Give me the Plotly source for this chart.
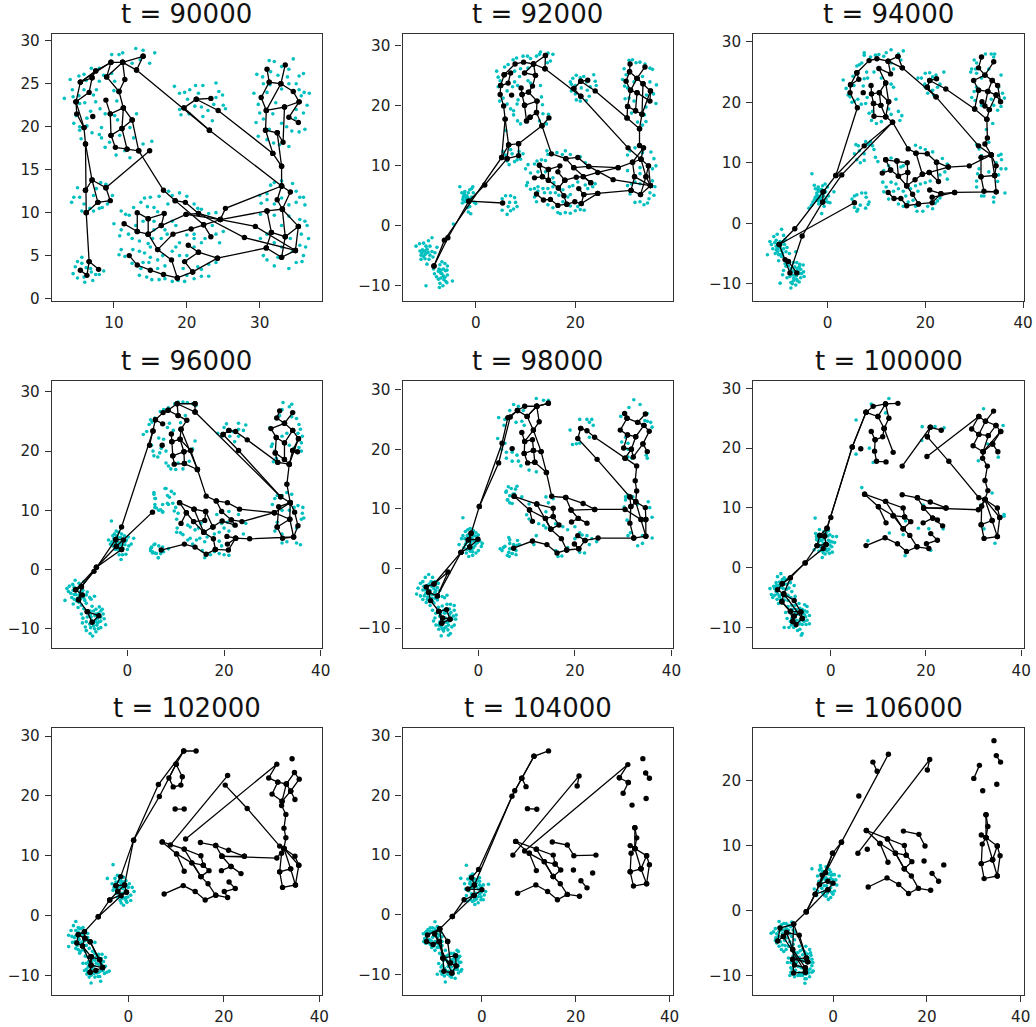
import plotly.graph_objects as go

titles = ["t = 90000", "t = 92000", "t = 94000", "t = 96000", "t = 98000", "t = 100000", "t = 102000", "t = 104000", "t = 106000"]

# ---------- network links, each list is x,y,x,y,... along a chain of nodes ----------
links_90000 = [
 [14.0,28.2,11.2,27.5,9.6,27.5,7.5,26.5,5.4,25.2,4.8,22.9,4.9,21.5,5.9,19.9,6.1,18.0,6.1,12.6,6.2,10.0,6.6,4.3,6.3,2.7,5.4,3.3],
 [7.9,3.4,6.6,4.3],[14.0,28.2,13.1,26.6,11.2,27.5,9.0,25.8,10.7,24.1,11.5,25.5,11.2,27.5],
 [5.4,25.2,9.6,27.5,9.0,25.8],[5.4,25.2,7.0,25.7,7.5,26.5],[7.0,25.7,6.6,24.0,4.8,22.9],[4.8,22.9,5.9,19.9],
 [10.7,24.1,11.3,22.2,12.5,20.8,13.4,17.2,16.8,12.6,18.4,11.4,22.3,8.6,23.3,7.2],
 [11.3,22.2,11.1,19.8,11.8,17.4,10.2,17.6,9.6,19.0,11.1,19.8,12.5,20.8],[11.3,22.2,9.5,21.5,8.9,23.1],[9.5,21.5,9.6,19.0],
 [11.8,17.4,13.4,17.2],[8.9,12.9,14.9,17.2],[6.1,12.6,7.0,13.8,8.9,12.9,9.5,11.4,7.8,11.2,7.0,13.8,6.1,18.0],[6.2,10.0,7.8,11.2],
 [18.4,11.4,19.8,11.2,21.6,9.9,27.9,7.1,34.9,5.6],[19.9,9.8,21.6,9.9,24.6,9.2,29.4,8.4,34.9,5.6],
 [14.7,7.5,16.5,8.5,19.9,9.8,24.6,9.2,25.3,10.5,33.0,13.1],[16.5,8.5,16.9,9.9,14.7,9.3,13.2,10.0,13.2,7.8,14.7,7.5,14.7,9.3],[11.4,8.7,13.2,7.8],
 [14.7,7.5,16.0,5.7,17.9,4.5,18.7,2.4,16.8,2.8,15.0,3.3,13.2,3.9,12.1,5.0],
 [16.0,5.7,18.1,7.5,20.6,8.1,22.3,8.6,24.6,9.2,31.0,10.2,33.1,10.4,32.4,11.5,33.0,13.1],
 [18.7,2.4,20.8,3.1,24.2,4.7,30.9,5.9,33.0,4.8,34.9,5.6,35.3,8.4,33.1,10.4,33.5,7.2,33.0,4.8],
 [31.0,10.2,31.6,7.7,30.9,5.9],[31.6,7.7,33.5,7.2,35.3,8.4],[20.8,3.1,19.7,4.3,21.6,5.4,20.2,6.2],[21.6,5.4,24.2,4.7],
 [13.1,26.6,23.1,19.6,33.0,13.1],[19.6,22.2,23.1,19.6],[19.6,22.2,21.3,23.2,23.3,23.3],
 [21.3,23.2,24.3,21.9,31.8,16.9,33.0,15.4,33.0,13.1,34.2,12.4,33.1,10.4],
 [31.0,26.7,31.3,25.2,30.2,23.4,30.9,21.9,30.8,19.6,32.4,19.3,33.2,18.2,33.4,22.3,30.9,21.9,32.9,25.0,31.3,25.2],
 [33.5,27.2,32.9,25.0,34.6,24.1,35.4,22.9,33.4,22.3],[35.4,22.9,34.0,21.1,35.3,20.5],[32.4,19.3,33.0,15.4],[30.8,19.6,31.8,16.9],[7.1,21.2],
]
links_92000 = [
 [14.0,28.4,11.6,27.0,9.6,27.3,7.9,27.0,5.7,25.2,5.0,23.4,4.9,21.9,5.6,20.0,5.9,17.8,5.2,11.4,-6.3,-2.4,-8.4,-6.7],
 [5.9,17.8,6.6,13.5,5.2,11.4],[6.6,13.5,8.6,13.7,8.6,11.7,6.3,11.2,6.6,13.5],[6.3,11.2,1.8,6.8,-1.4,4.1,-5.6,-2.0,-8.4,-6.7],[-1.4,4.1,5.4,3.8],
 [14.7,18.0,13.3,16.7,8.6,13.7],[14.0,28.4,13.9,26.2,11.6,27.0,9.8,25.5,12.0,25.1,11.4,23.3,10.6,22.3,12.3,20.8,12.2,18.9,13.3,16.7,15.2,12.0,18.1,11.2,19.7,9.7,22.7,9.9,28.6,9.7,31.5,10.6,33.2,11.1],
 [11.6,27.0,12.0,25.1],[5.7,25.2,7.0,25.5,6.5,23.8,5.0,23.4],[9.1,23.0,9.3,21.9,9.8,20.1,10.2,17.5,10.9,18.1,12.2,18.9],[9.3,21.9,10.6,22.3],[9.8,20.1,12.3,20.8],[10.2,17.5,10.9,18.1],
 [13.9,26.2,21.1,21.6,30.6,13.0,33.2,11.1,34.2,8.2,35.1,6.7],[19.7,22.9,21.1,21.6],[19.7,22.9,21.1,24.1,22.5,24.3],[21.1,24.1,24.0,22.5,30.4,18.0,32.9,16.2,32.9,13.4,33.7,13.0,33.2,11.1,34.7,10.0,35.1,6.7,33.1,5.2,31.2,5.9,24.5,5.4,21.2,3.7,19.9,4.0,18.3,3.6,16.5,3.4,15.0,4.4,13.6,4.3,12.2,5.3],
 [33.7,13.0,31.5,10.6,31.9,8.2,31.2,5.9],[31.9,8.2,35.1,6.7],[34.7,10.0,34.2,8.2,33.1,5.2],[18.1,11.2,20.5,11.4,22.7,9.9,27.6,7.7,35.1,6.7],
 [12.8,10.1,13.4,8.2,14.6,7.6,14.6,9.4,16.9,10.0,16.5,9.0,17.9,7.6,16.6,6.3,17.7,5.0,18.3,3.6],[11.8,8.0,13.4,8.2],[12.8,10.1,14.6,9.4],[14.6,7.6,16.6,6.3],[17.9,7.6,20.2,8.1,21.6,8.2,24.5,8.9,28.6,9.7],[19.7,9.7,23.1,7.2],[21.6,8.2,23.1,7.2],[20.7,6.2,21.7,5.2,21.2,3.7],[21.7,5.2,24.5,5.4],[31.0,27.0,30.9,25.7,30.2,24.1,31.1,22.6,30.5,19.9,30.4,18.0],
 [34.0,26.5,32.4,24.6,30.9,25.7],[32.4,24.6,33.6,23.7,35.1,22.5,35.0,20.8,32.4,22.2,31.1,22.6,32.4,24.6],[32.4,22.2,32.1,19.2,30.5,19.9],[33.6,23.7,33.4,18.6,32.1,19.2],[35.1,22.5,33.4,18.6,32.9,16.2],[7.2,21.8],
]
links_94000 = [
 [14.4,27.6,12.4,26.8,10.1,27.2,8.5,26.9,6.0,24.9,4.7,22.9,4.6,21.6,6.1,19.1,1.7,7.9,-0.9,5.2,-6.7,-0.9,-9.9,-3.5,-8.7,-6.0,-7.7,-8.2,-5.2,-2.1,-1.0,3.5,2.9,8.0,13.3,16.7,7.5,12.8,1.7,7.9],
 [-9.9,-3.5,5.5,3.4],[-8.0,-6.3,-6.3,-8.2],[-0.9,5.2,-1.0,3.5],[14.4,27.6,15.3,25.7,12.4,26.8,12.9,24.7,10.5,25.6,11.9,23.2,10.6,21.6,12.5,20.1,11.9,17.6,13.3,16.7,16.5,12.3,18.1,11.6,20.4,11.5,22.3,10.1,24.7,9.3,29.0,9.5,33.5,11.3,34.5,9.5,34.2,7.9,34.5,5.2],
 [6.0,24.9,6.4,23.8,4.7,22.9],[8.9,22.8,9.0,21.4,9.4,19.8,9.5,17.7,11.9,17.6],[9.0,21.4,10.6,21.6,10.9,19.5,11.9,17.6],[9.4,19.8,10.9,19.5],[11.9,23.2,12.5,20.1],
 [15.3,25.7,22.2,20.9,30.9,12.8,33.5,11.3],[20.4,22.5,22.2,20.9],[20.4,22.5,20.9,23.6,22.3,23.9],[20.9,23.6,24.2,22.2,30.1,18.9,32.6,17.2,32.7,14.1,32.2,13.1,33.5,11.3,31.4,10.9,31.4,7.7,32.0,5.3,34.5,5.2,26.0,5.1,23.2,4.9,21.4,3.4,18.6,3.2,16.2,2.9,15.0,4.1,13.6,4.1,12.4,5.1],
 [31.4,7.7,34.2,7.9],[18.1,11.6,19.4,8.1,17.9,7.2,16.2,6.2,17.4,4.8,18.6,3.2],[19.4,8.1,20.8,8.4,24.7,9.3],[22.3,10.1,22.7,6.9,20.8,8.4],[33.5,11.3,34.2,7.9],[21.4,4.3,26.0,5.1],[20.9,5.5,23.2,4.9],
 [11.9,10.5,12.9,8.8,11.2,8.3],[12.9,8.8,14.5,7.8,16.4,8.4,16.2,6.2],[11.9,10.5,14.2,10.3,16.3,10.0,16.4,8.4],[14.2,10.3,14.5,7.8,16.2,6.2],
 [31.5,27.5,30.9,25.7,32.2,24.5,29.9,23.6,30.9,22.0,30.1,18.9],[34.0,26.7,32.2,24.5,33.7,23.6,34.8,22.8,35.4,20.1,34.5,21.2,32.8,21.8,33.7,23.6],[30.9,22.0,32.8,21.8,32.2,19.4,31.6,20.1,33.1,18.8,32.6,17.2],[34.5,21.2,33.1,18.8],[7.3,21.6],
]
links_96000 = [
 [14.0,28.0,10.3,28.0,8.4,26.9,7.4,26.5,5.8,25.3,5.3,23.4,4.6,21.0],[5.3,23.4,-1.2,7.2,-2.4,5.1,-0.8,5.0,-1.2,3.4,-2.3,3.9,-2.4,5.1,-6.9,-0.3,-9.5,-2.9,-10.7,-3.4,-9.3,-4.3,-10.1,-5.1,-8.3,-7.1,-7.3,-8.9,-5.9,-7.8,-8.3,-7.1],
 [5.2,9.7,-2.3,3.9,-6.4,0.4,-9.5,-2.9,-10.1,-5.1],[-1.2,3.4,-6.4,0.4,-10.7,-3.4],[5.8,25.3,7.3,24.6],[14.0,28.0,14.0,26.6,10.3,28.0,10.5,26.0,8.4,26.9],[10.5,26.0,12.3,25.2,11.1,23.7,10.9,22.0,13.1,20.1,14.5,16.9,16.3,12.4,18.4,11.6,20.7,11.3,23.2,10.2,30.4,9.6,33.7,11.3],
 [11.1,23.7,14.5,16.9],[14.0,26.6,31.7,12.3,33.7,11.3,34.6,9.7,35.3,7.4,34.4,5.5,33.6,8.5,33.7,11.3],[9.1,22.9,9.2,21.6,9.4,19.2,9.7,17.8,11.8,17.9,14.5,16.9],[9.2,21.6,10.9,22.0,11.7,19.9,11.8,17.9],[9.4,19.2,11.7,19.9,13.1,20.1],
 [21.0,23.5,22.4,23.3,24.8,21.9,31.1,18.1,33.5,17.8,33.0,14.4,33.7,11.3,31.3,10.6,31.0,7.2,32.1,5.3,34.4,5.5,25.3,5.2,22.4,5.3,20.9,3.3,18.2,3.4,16.3,2.6,14.0,3.8,11.8,4.3,7.0,3.3],
 [19.8,22.8,21.0,23.5],[19.8,22.8,23.0,20.1,31.7,12.3],[31.0,7.2,33.6,8.5,30.4,9.6],[18.4,11.6,19.5,9.8,21.5,8.4,22.3,7.5,19.6,8.2,17.7,7.2,15.8,6.3,17.8,5.2,18.2,3.4],[21.5,8.4,23.7,8.1,30.4,9.6],[20.6,5.6,22.4,5.3],[20.7,4.3,22.4,5.3],
 [10.8,11.3,12.2,9.6,11.1,7.8],[12.2,9.6,13.7,8.1,16.0,8.3,16.2,9.8,13.8,10.2,10.8,11.3],[13.7,8.1,15.8,6.3],[13.8,10.2,15.8,6.3],[16.2,9.8,17.7,7.2],
 [31.5,26.8,30.9,25.6,32.5,24.7,29.7,23.8,30.8,22.3,30.6,19.7,31.1,18.1],[34.2,26.5,32.5,24.7,34.2,23.5,35.4,22.1,34.2,20.1,35.2,19.9],[30.8,22.3,32.5,21.4,34.2,23.5],[32.5,21.4,32.5,18.6,30.6,19.7],[35.4,22.1,33.5,17.8,32.5,18.6],[34.2,20.1,33.5,17.8],[7.2,21.0],
]
links_98000 = [
 [14.5,27.7,12.1,27.2,9.6,27.2,8.1,26.5,6.1,25.3,4.9,21.0,0.2,10.4,-1.5,5.9,-2.1,4.8,-3.6,2.7,-9.2,-2.6,-10.8,-3.1,-10.3,-4.0,-9.9,-5.4,-8.2,-7.2,-7.6,-9.2],[-10.3,-4.0,-8.5,-4.6,-6.3,-0.6,-9.2,-2.6],[8.1,26.5,6.6,25.4,4.2,17.7,0.2,10.4],
 [-1.5,5.9,-1.8,3.6,-3.6,2.7],[-2.1,4.8,-0.1,4.9,-1.8,3.6],[-3.6,2.7,-8.5,-4.6],[-8.2,-7.2,-6.6,-6.9,-5.9,-8.5,-7.4,-8.3,-8.2,-7.2],[-7.6,-9.2,-5.9,-8.5],
 [14.5,27.7,12.1,27.2,10.1,25.5,8.1,26.5],[12.1,27.2,10.1,25.5,11.4,23.2,9.6,21.3,9.5,19.3,10.2,17.7,11.7,17.8,14.1,16.1,15.2,12.1,18.1,11.9,21.7,10.9,24.1,9.9,30.4,9.9,33.7,8.2,34.7,8.2],[12.1,27.2,12.6,24.6,11.4,23.2,13.0,19.6,14.1,16.1],
 [9.0,22.8,9.6,21.3,11.2,21.6,11.4,19.8,11.7,17.8],[9.5,19.3,11.4,19.8,13.0,19.6],[18.1,11.9,19.2,9.8,20.7,8.4,22.5,7.6],[20.7,8.4,19.3,7.8],[19.2,9.8,24.1,9.9],
 [21.2,23.5,22.5,23.1,24.1,22.0,30.4,18.5,32.8,17.2,32.5,14.7,32.8,13.0,32.6,11.2,34.6,10.2,34.7,8.2,34.7,5.4,32.2,5.1,24.8,5.1,22.1,4.7,20.8,3.3,18.3,3.1,16.3,2.6,14.2,4.0,11.2,4.6,7.3,3.4],
 [21.2,23.5,20.6,21.8,24.6,18.3,31.4,12.0,32.6,11.2,33.7,8.2,34.7,5.4],[31.6,10.4,31.4,7.6,32.2,5.1],[31.4,12.0,31.6,10.4,32.6,11.2],[20.6,5.5,22.1,4.7],[19.9,4.1,20.8,3.3],
 [7.4,12.1,12.1,10.8,15.5,10.1,15.5,8.7,13.9,8.4,15.0,6.6,17.2,5.0,18.3,3.1],[7.4,12.1,10.6,9.8,11.2,7.9],[10.6,9.8,13.9,8.4],[12.1,10.8,15.0,6.6],[15.5,8.7,16.7,7.3,15.0,6.6],
 [30.3,26.0,30.8,25.2,29.4,23.2,30.9,22.4,30.1,20.2,31.7,20.0,30.4,18.5],[34.6,25.9,33.0,24.5,30.8,25.2],[33.0,24.5,34.3,24.0,35.4,23.0,34.1,20.9,35.0,19.6],[30.9,22.4,32.6,22.1,34.3,24.0],[32.6,22.1,31.7,20.0,32.1,18.7,34.1,20.9],[7.0,20.1],
]
links_100000 = [
 [14.1,27.5,11.5,27.4,8.9,27.0,7.4,26.0,4.5,20.2,0,8.4,-0.8,6.6,-2.3,5.4,-2.9,3.7,-5.4,0.8,-10.2,-2.7,-11.2,-3.7,-9.9,-4.4,-10.3,-5.7,-8.5,-7.3,-8.0,-9.0,-7.3,-9.5,-6.0,-8.5,-6.3,-7.4,-8.5,-7.3],
 [7.4,26.0,4.5,20.2,-0.8,6.6,-1.3,5.3,-2.3,5.4],[-1.3,5.3,-1.0,3.9,-2.9,3.7],[-1.0,3.9,-1.6,3.2,-5.4,0.8,-8.5,-1.7,-10.2,-2.7],[-8.5,-1.7,-9.9,-4.4,-7.7,-5.5,-6.3,-7.4,-7.7,-8.1,-8.0,-9.0],[-9.9,-4.4,-6.0,-8.5],[-10.3,-5.7,-7.7,-8.1],
 [11.5,27.4,9.9,25.3,7.4,26.0],[11.5,27.4,12.2,25.0,11.2,23.3,9.9,25.3],[11.2,23.3,13.1,19.3],[11.2,23.3,10.9,21.9,9.3,21.4,8.5,22.8],[9.3,21.4,9.2,19.5,9.6,17.8,11.6,17.7],
 [15.0,17.0,20.9,23.5,23.2,23.0],[20.3,21.9,20.9,23.5],[20.3,21.9,24.8,17.8,31.1,11.7,32.4,11.4,35.0,10.0,35.5,8.4,35.0,5.2,32.2,4.9,31.6,7.2,33.9,7.9,35.0,5.2],[20.2,18.6,31.1,25.3,29.6,23.2,31.1,22.3,33.1,22.1,34.7,23.8,35.7,22.8,34.0,20.7,35.1,19.4],[31.1,25.3,32.5,24.5,34.7,23.8],[34.2,26.2,32.5,24.5,31.1,22.3,29.9,20.4,32.0,19.4,33.1,22.1],[35.7,22.8,32.0,19.4,31.9,18.3,32.9,17.0,32.4,14.6,33.0,12.9,32.4,11.4,31.7,10.3,31.6,7.2],[34.0,20.7,32.0,19.4],
 [19.5,10.0,24.2,10.0],[19.5,10.0,31.0,9.7,32.4,11.4,35.5,8.4],[32.4,11.4,33.9,7.9],[15.0,12.2,18.2,11.7,20.9,11.0,24.2,10.0],[18.2,11.7,19.5,10.0,21.4,8.3,23.5,7.0],[19.4,7.5,21.4,8.3],[21.4,8.3,22.4,8.0],
 [7.1,12.3,11.5,11.1,15.2,10.0,15.5,8.5,13.1,8.7,15.2,6.5,16.6,5.4,18.1,3.5,15.9,2.7,14.0,4.0,11.4,5.0,7.4,3.7],[7.1,12.3,10.0,10.2,11.6,7.5],[10.0,10.2,13.1,8.7],[11.5,11.1,15.2,6.5],[15.5,8.5,16.8,7.7,15.2,6.5],[18.1,3.5,20.6,3.2,20.1,4.0,22.4,4.6,21.0,5.7],[6.3,19.9],
]
links_102000 = [
 [14.2,27.5,11.6,27.5,6.3,21.9,1.1,12.6,-1.6,6.5,-2.6,5.0,-2.2,4.0,-3.9,2.6,-6.3,-0.2,-9.2,-2.7,-10.5,-3.2,-10.8,-4.6,-9.6,-5.1,-7.8,-6.9,-7.8,-8.3,-8.0,-9.5,-6.8,-9.2,-5.4,-8.7,-6.0,-7.4,-7.8,-6.9],
 [11.6,27.5,10.0,25.3,6.5,19.9,1.1,12.6,-0.8,5.1,-2.2,4.0],[-2.6,5.0,-0.8,5.1,-0.4,3.9,-1.5,3.3,-6.3,-0.2],[-0.4,3.9,-3.9,2.6],[-9.2,-2.7,-9.1,-3.8,-8.0,-4.4,-6.0,-7.4],[-9.1,-3.8,-9.6,-5.1,-7.8,-8.3,-5.4,-8.7],[-10.5,-3.2,-8.0,-4.4,-5.4,-8.7],[-7.8,-6.9,-8.0,-9.5],
 [10.0,25.3,11.3,23.2,11.0,21.8,9.4,21.5,8.5,23.0,10.0,25.3],[9.8,17.8,11.7,17.8],[8.8,11.8,20.8,23.4],[20.3,21.8,24.9,17.9,31.7,11.6,32.6,11.2,34.9,9.9,35.7,8.4,35.0,5.1,32.3,4.7,31.7,7.3,34.0,7.8,35.0,5.1],[12.0,12.8,31.1,25.3,29.4,23.0,31.3,22.3,33.1,22.0,34.8,23.9,35.8,22.8,34.0,20.8,34.9,19.4],[33.1,22.0,34.0,20.8],[31.3,22.3,30.1,20.3,32.2,19.1,33.1,22.0],[34.0,20.8,32.2,19.1,32.1,18.4,33.0,16.9,32.6,14.6,33.0,13.0,32.6,11.2,32.1,10.4,31.7,7.3],[34.3,26.2],
 [19.6,9.9,24.3,9.9],[19.6,9.9,31.1,9.6,32.6,11.2,35.7,8.4],[32.6,11.2,34.0,7.8],[15.1,12.2,18.3,11.7,21.0,10.9,24.3,9.9],[18.3,11.7,19.6,9.9,21.5,8.2,23.6,7.0],[19.5,7.5,21.5,8.2],
 [7.1,12.3,11.7,11.1,15.2,10.0,15.7,8.4,13.3,8.8,15.2,6.5,16.7,5.3,18.3,3.4,16.1,2.6,14.0,4.0,11.5,5.0,7.5,3.6],[7.1,12.3,10.1,10.3,11.7,7.4],[10.1,10.3,13.3,8.8],[11.7,11.1,15.2,6.5],[15.7,8.4,16.9,7.5,15.2,6.5],[18.3,3.4,20.8,3.0,20.1,4.0,22.4,4.5,21.1,5.6],
]
links_104000 = [
 [14.2,27.5,11.1,26.6,8.5,22.9,7.0,20.8,-0.7,7.6,-2.2,6.2,-1.6,5.0,-3.0,4.3,0,4.2,-1.7,3.2,-3.8,2.5,-6.3,-0.3,-9.0,-2.4,-11.6,-3.4,-11.8,-4.5,-10.4,-5.0,-9.1,-4.5,-8.3,-7.3,-8.1,-9.5,-6.4,-9.8,-5.5,-8.6,-5.6,-6.9,-8.3,-7.3],
 [11.1,26.6,6.4,19.9,-1.6,5.0,-1.7,3.2],[8.5,22.9,9.4,21.5],[-9.0,-2.4,-10.1,-3.2,-9.1,-4.5],[-9.0,-2.4,-7.3,-4.5],[-9.0,-2.4,-8.3,-7.3,-6.7,-8.1,-5.5,-8.6],[-10.1,-3.2,-6.4,-9.8],[-1.7,3.2,-6.3,-0.3],[-7.3,-4.5,-6.7,-8.1],
 [9.7,17.8,11.7,17.7],[6.6,10.0,20.7,23.3,20.3,21.6],[9.1,10.7,31.1,25.2,29.3,23.0],[31.2,22.2,29.3,23.0],[31.2,22.2,30.1,20.4],[34.9,23.8,35.7,22.9],[34.3,26.2],[32.0,18.4],[35.0,19.5],
 [32.6,14.6,33.0,12.9,32.6,11.1,31.8,10.3,31.6,7.2,33.9,7.7,35.1,5.2,32.3,4.8,31.6,7.2],[31.6,11.6,32.6,11.1,35.1,9.9,35.7,8.4,35.1,5.2],[32.6,11.1,33.9,7.7],[32.6,14.6,32.6,11.1],[33.9,7.7,35.1,9.9],
 [15.0,12.2,18.2,11.7,19.6,9.9,24.3,10.0],[19.5,7.5],[23.6,7.0],[21.1,5.7,22.4,4.5],
 [7.2,12.3,11.6,11.0,15.2,10.0,15.6,8.5,13.3,8.9,15.2,6.4,16.7,5.2,18.2,3.4,16.1,2.5,14.0,3.9,11.5,5.0,7.6,3.6],[7.2,12.3,10.1,10.3,11.6,7.4],[10.1,10.3,13.3,8.9],[11.6,11.0,15.2,6.4],[15.6,8.5,16.8,7.5,15.2,6.4],[18.2,3.4,20.8,3.1],
]
links_106000 = [
 [11.8,24.0,1.8,10.5,-0.1,8.8,-1.6,5.8,-2.3,5.4,-2.9,4.0,-1.1,4.5,0,4.2,-1.1,3.2,-3.8,2.5,-5.7,-0.2,-8.4,-2.1,-11.3,-2.7,-11.8,-4.7,-10.6,-4.0,-9.9,-3.4,-7.2,-3.8,-5.4,-7.9,-5.7,-7.3,-8.6,-7.5,-8.4,-9.6,-5.9,-9.5,-5.9,-8.8,-8.2,-8.4,-8.6,-6.0,-9.9,-3.4],
 [8.5,22.8,9.4,21.4],[1.8,10.5,-2.9,4.0,-5.7,-0.2],[-1.1,3.2,-5.7,-0.2],[-0.1,8.8,-3.8,2.5],[-8.4,-2.1,-8.6,-6.0,-5.9,-8.8],[-8.4,-2.1,-5.7,-7.3],[-10.6,-4.0,-5.9,-9.5],[-8.6,-7.5,-5.4,-7.9],
 [5.5,17.6],[5.3,8.8,20.6,23.2,20.1,21.6],[7.3,9.4],[31.2,22.3,30.0,20.3],[34.8,23.8,35.7,22.8],[34.3,26.1],[31.9,18.4],[34.9,19.4],
 [32.6,14.7,33.0,12.9,32.6,11.2,31.8,10.2,31.6,7.2,34.0,7.8,35.0,5.3,32.2,4.9,31.6,7.2],[31.6,11.6,32.6,11.2,35.0,9.9,35.6,8.4,35.0,5.3],[32.6,11.2,34.0,7.8],[32.6,14.7,32.6,11.2],[34.0,7.8,35.0,9.9],
 [15.0,12.2,18.3,11.7,19.6,9.9],[19.4,7.6],[23.6,7.0],[21.1,5.7,22.5,4.5],
 [7.1,12.3,11.6,11.0,15.2,10.0,15.6,8.5,13.3,8.8,15.2,6.4,16.7,5.3,18.2,3.4,16.1,2.6,14.0,4.0,11.5,5.0,7.5,3.6],[7.1,12.3,10.0,10.3,11.7,7.4],[10.0,10.3,13.3,8.8],[11.6,11.0,15.2,6.4],[15.6,8.5,16.8,7.5,15.2,6.4],[18.2,3.4,20.8,3.1],
]

# ---------- cyan input points, x,y,x,y,... ----------
dots_90000 = [3.2,23.3,4.0,25.5,4.3,24.3,4.5,20.4,4.4,23.5,5.2,25.9,5.9,26.1,6.2,25.4,6.9,26.8,8.0,26.8,8.6,26.0,9.7,28.4,10.7,28.4,11.2,28.6,13.0,29.1,14.0,28.9,15.6,28.6,14.9,27.4,13.6,27.8,12.5,27.4,10.1,25.3,9.7,26.2,8.0,25.3,7.6,24.3,7.2,23.7,5.9,24.3,5.2,23.6,4.8,21.3,6.0,22.8,5.3,22.7,7.5,22.9,8.1,22.1,8.8,21.5,10.1,21.3,10.4,23.0,10.0,24.2,13.1,21.5,12.2,19.9,12.7,18.7,14.0,18.0,15.2,18.3,8.3,18.7,8.8,17.6,9.4,18.2,10.3,16.7,8.0,19.1,7.0,19.3,5.3,19.6,5.3,20.0,6.3,20.1,5.5,18.6,6.3,21.0,12.2,16.4,11.5,17.2,10.8,19.0,10.5,20.8,6.8,21.8,8.3,19.9,
 18.3,24.7,19.0,23.9,20.1,23.2,19.7,24.0,20.4,24.3,21.2,24.8,21.6,23.9,22.2,24.8,24.0,25.1,24.4,24.1,24.9,23.7,24.0,23.4,25.0,22.5,23.7,22.6,22.0,22.3,21.1,22.4,20.3,21.5,19.2,21.4,19.0,22.0,22.9,21.9,23.5,20.7,22.2,21.2,25.3,22.1,
 31.3,27.7,32.0,27.6,33.0,27.0,34.6,27.9,34.0,26.7,35.4,25.9,36.0,26.2,29.6,26.1,30.4,25.8,30.5,25.0,31.5,26.4,32.5,26.0,33.8,25.8,31.0,24.0,29.2,23.9,29.8,22.6,31.4,24.9,33.0,24.4,34.0,25.0,35.0,25.0,35.4,24.3,36.1,24.0,36.8,23.9,36.5,22.5,35.7,23.6,35.0,22.0,36.0,21.6,34.9,21.0,36.2,19.7,35.4,19.4,34.4,19.5,33.7,20.0,33.0,20.4,32.2,22.8,31.8,21.5,30.0,21.6,29.5,20.5,29.8,18.9,30.5,20.9,31.3,19.7,31.0,18.5,31.9,18.1,32.7,17.9,34.0,17.7,
 5.0,12.9,4.5,11.8,4.2,11.2,5.3,11.8,5.9,11.0,5.6,10.2,6.7,10.5,7.2,12.0,7.6,12.8,8.2,13.5,8.9,13.3,9.1,11.0,8.4,10.6,7.2,10.2,9.8,12.0,8.0,10.5,
 4.4,2.9,4.7,3.7,5.0,4.3,5.6,4.8,5.0,2.4,5.9,2.5,6.0,1.9,7.1,2.1,7.5,2.8,8.0,2.8,8.6,3.2,6.9,3.1,6.2,3.6,6.8,3.5,5.6,4.1,
 11,10.2,11.6,9.8,10,8.7,11,8.0,10.8,7.3,12.1,9.7,12.7,10.6,13.7,11.2,14.2,11.7,14.6,10.7,15.5,10.6,15.5,9.0,16.0,10.1,17.4,11,15.0,11.8,16.2,11.9,17.5,12.5,18,12,19.0,12.3,20,11.9,21,11,21.5,10.5,22,10.4,23,9.9,24,10,23.5,8.5,24,7.5,25,7.8,24.5,6.5,22.5,7,22,6.5,21,7.5,21,7,20,7.4,19,6.5,18.5,8.5,18,9,17,8,17.3,7.5,16.5,7,15.5,8,14,9,13,8.5,12,7.5,12.5,7,13.5,6.7,14.7,6.4,15.3,7,11,5.7,10.7,5.1,11.5,4.9,12.6,5.7,13.5,5.5,14.2,5.3,15,6,15,4.8,16,4.5,16.7,5,17,3.8,16,3.5,14.8,4.2,14,4.2,13.7,3.5,12.5,4.1,13.5,2.7,14.5,2.5,15.2,2.2,16.2,2.2,17,2.3,18,2,18.8,2.1,19.7,2,20,2.7,21,2.3,22,2.6,23,2.6,22,3.4,21.5,3.7,23,4,24,4.2,19.5,3.5,19,5,20,5,21,6,18.5,6,18,5.5,
 30,12,31,12.2,31.5,13.2,32,13.5,33,13.7,34.5,13.4,35,12.5,36,11.8,35.5,11.8,35,11.2,36.2,10.9,34,10.9,33,11.7,32,11,31,11.5,30.2,11.1,30.1,9.8,32,9.7,34,9.6,35.5,9.2,36.2,9,36.5,8.5,35.7,7.5,36.7,7,36.3,6,35.5,6.2,34.2,7,33,8.5,33,6,32,6.5,31,7.5,30.1,7,30.5,5,31,4.5,32,3.8,32.5,4.8,34,3.5,35,4.2,35.8,4.3,36,5,34.5,5.5]
dots_92000 = [4.2,25.8,4.5,24.8,4.9,24.2,4.5,23.2,5.8,26.5,6.5,26.9,7.5,27.7,8.2,28.0,9.5,28.3,10.4,28.3,11.0,27.9,12.2,28.3,12.8,28.6,13.0,29.0,14.5,28.8,15.5,28.6,15.0,27.5,14.4,27.2,9.0,26.2,7.8,25.8,8.8,24.9,7.8,24.0,8.4,23.4,7.4,23.2,6.3,22.5,5.5,21.3,4.8,20.8,6.3,20.3,7.0,19.5,10.5,26.3,10.5,24.2,11.0,23.8,8.5,21.0,8.3,20.3,7.6,19.2,13.0,23.4,13.2,21.5,13.4,20.2,13.5,18.7,14.6,18.6,12.8,17.5,14.2,17.0,8.4,17.5,9.0,17.0,7.6,18.5,6.0,15.9,
 19.0,24.0,19.5,24.6,19.2,23.6,20.2,25.1,21.0,24.7,21.7,24.9,22.3,24.0,23.7,25.2,24.0,24.1,24.2,23.4,23.0,23.2,22.4,22.6,21.2,23.0,20.0,23.4,19.2,22.5,20.0,22.0,20.2,21.0,21.0,20.8,22.2,20.9,22.8,21.6,
 29.8,26.2,30.2,25.2,30.8,27.6,31.5,27.7,32.2,27.2,33.0,27.3,34.0,27.0,35.0,26.3,35.5,26.1,29.5,24.4,29.9,23.3,30.5,23.0,31.8,24.0,33.5,24.9,35.0,24.0,36.3,23.5,35.7,22.0,36.2,20.4,34.3,21.8,34.2,19.8,33.9,18.5,34.2,17.4,32.5,17.3,33.5,16.8,31.8,20.8,30.8,21.3,31.3,18.8,30.0,21.2,
 5.5,12.4,6,11.8,6.3,10.8,6.7,10.2,7.8,10.7,8.3,11.0,9.0,11.1,9.5,12.0,8.7,12.4,7.3,12.0,7.0,12.7,
 5.3,4.5,6.0,5.0,7.0,5.0,7.8,4.7,8.0,3.9,8.3,3.2,7.6,2.8,7.0,2.5,6.5,3.2,6.3,1.9,5.3,2.6,6.8,3.9,
 -4.5,0.3,-3.2,6.5,-2.8,5.5,-2.5,4.8,-2.2,4.0,-2.7,3.8,-2.2,5.7,-1.8,5.0,-1.7,3.0,-1.5,2.3,-1.0,2.0,-1.2,6.0,-0.8,6.2,-0.5,5.5,-0.8,4.8,-0.3,3.9,-1.2,3.2,0.0,3.7,-0.6,6.5,-2.0,4.7,-2.4,5.0,
 -12,-3.4,-11.3,-3.0,-10.5,-2.9,-10.0,-3.4,-9.5,-2.5,-8.8,-2.0,-9.2,-3.4,-9.8,-3.9,-10.7,-4.0,-11.2,-4.2,-11.0,-4.9,-11.0,-5.6,-10.2,-4.8,-9.6,-4.4,-9.2,-4.9,-8.8,-4.3,-8.2,-4.5,-9.4,-5.6,-10.2,-5.5,-9.8,-6.4,-8.6,-5.2,-7.8,-3.6,
 -10,-10.0,-8.5,-7.2,-8.3,-8.0,-7.9,-8.5,-7.5,-7.6,-7.2,-6.5,-6.8,-6.0,-6.5,-7.2,-7.0,-7.9,-7.5,-8.9,-7.2,-9.6,-7.3,-10.3,-6.6,-10.0,-6.0,-9.3,-5.8,-9.5,-4.7,-9.2,-5.7,-8.2,-6.2,-8.6,-6.1,-7.5,-5.7,-6.7,-6.2,-6.3,-5.8,-7.4,
 10.5,10.2,11.8,10.3,12.3,10.8,13.2,11.0,14,10.9,14.5,11.9,14.3,12.5,16.3,12.2,17.4,11.9,18,12.5,19,11.9,21,11.5,22,10.5,10,9.5,11,8.8,12.5,9,14,9,15.5,8,15.7,7.2,10.4,7.2,10.2,6.7,11,6.1,11.8,6.2,12.5,6.5,13.5,6.2,14.5,6.2,15.5,6.5,12.5,5.8,13.8,5.5,15,5.5,16,5.5,16.7,5.1,17.5,6,18.8,6.5,19.5,6.7,20.5,7.3,22,6.8,22.5,6.2,23.5,6.5,24,7,11.8,4.8,12.2,4,14.5,3.5,15.5,3,16.5,2.2,17,2,18,2.2,19,2.1,20,2.5,21,2.7,21.8,2.6,20.5,3.2,19,3.3,17.5,4,18.5,4.8,19,5.2,
 30.5,11.8,31,12.5,32,13,33.5,12.2,35.2,12.3,35.8,11.2,36.2,10,35.5,9.5,33,9.7,30.5,9.2,32,7.3,33,7,35.5,7.5,36,6.5,35,5.5,35.8,5.1,34.8,4.5,34.5,3.8,33.8,3.5,33,4,32,3.9,31,5.3,30.5,6.7,31.3,7,33,8.7]
dots_94000 = [3.2,23.7,3.8,22.3,4.2,21.2,4.6,20.9,5.0,20.0,5.5,20.2,5.4,22.8,5.2,24.3,6.0,26.0,6.5,26.2,7.0,26.5,7.5,27.8,7.5,28.2,8.8,27.5,9.8,27.8,10.5,27.9,11.5,27.6,12.0,28.2,13.0,28.7,14.5,28.0,15.5,28.5,15.0,27.0,13.5,25.5,13.0,26.5,8.0,25.0,7.5,23.9,8.2,24.0,7.3,22.7,8.1,20.8,7.8,19.8,6.9,19.7,6.2,20.5,9.5,25.0,11.0,24.0,13.0,23.0,13.5,22.5,14.0,20.5,13.0,18.0,14.5,18.5,15.2,17.8,14.8,17.0,9.0,17.0,8.5,18.2,9.2,18.5,11.0,16.8,10.0,16.5,12.5,18.9,
 18.5,24.0,19.2,24.0,20.0,24.8,20.9,24.9,21.5,24.2,22.2,24.5,23.8,25.0,23.0,23.0,22.5,22.5,21.5,22.0,21.7,21.2,20.5,21.5,20,22.5,19.9,23.0,
 30,27.0,30.5,26.5,30.3,25.5,29.5,25.5,29.3,25.0,30.5,24.8,31.5,24.0,33.0,25.5,34,27.5,33.5,28.0,32.3,28.0,34.2,28.0,35.5,24.5,35,22.5,35.8,21.5,36.2,20.7,35.5,19.3,34.8,18.7,34.0,19.5,33.5,20.5,30,21.8,29.5,20.8,30.2,20.3,31.5,19.5,30.5,22.5,33.8,16.5,32.5,15.5,
 5.5,11.5,6,10.5,6.5,12.0,7.5,11.5,7.8,13.5,8.4,13.0,8.8,13.5,9.2,12.8,9.5,12.2,7.5,10.4,6.7,10.0,5.8,13.0,6.3,12.8,
 5.0,4.0,5.5,4.5,6.0,4.7,7.0,5.0,7.8,5.0,7.9,4.3,8.5,3.5,8.3,3.1,7.8,2.5,6.7,3.0,6.2,2.3,6.0,2.0,5.5,2.6,
 -3.2,8.2,-3.8,2.5,-3.3,3.0,-3.0,3.5,-2.7,3.9,-2.5,4.3,-2.2,5.0,-2.5,5.7,-2.7,6.3,-1.9,6.0,-1.5,5.5,-1.0,6.2,-0.5,6.5,0,6.0,-0.4,5.2,-0.8,4.5,-1.5,4.0,-1.8,3.2,-1.2,1.6,-0.7,2.8,0,3.5,0.5,3.4,1.3,5.2,-2.2,3.8,-1.8,4.5,-0.3,4.0,0.2,4.5,-1.2,4.9,
 -12.3,-5.2,-11.5,-3.5,-11.8,-3.0,-11,-2.2,-10.5,-2.8,-10.3,-1.8,-9.4,-1.0,-9.0,-2.0,-8.7,-2.7,-8.8,-3.5,-9.7,-4.0,-10.5,-3.8,-11.2,-4.2,-10.7,-5.0,-10.0,-5.2,-9.2,-4.9,-8.5,-4.7,-8.3,-4.0,-9.4,-5.5,-10,-6.2,-8.7,-6.7,-7.8,-5.0,-6.5,-4.7,-10.5,-4.4,-9.7,-3.0,-9.0,-3.0,
 -9.7,-9.9,-9.2,-8.5,-9.0,-7.8,-8.5,-7.1,-8.0,-7.0,-7.5,-7.5,-7.0,-6.5,-6.3,-6.5,-5.7,-6.8,-5.0,-6.9,-4.9,-8.0,-4.8,-8.8,-5.5,-9.0,-5.8,-9.7,-6.5,-10.2,-7.5,-9.8,-7.2,-10.0,-8.3,-9.0,-7.7,-8.8,-6.9,-9.1,-6.0,-8.0,-5.5,-7.6,-6.9,-7.9,-7.5,-10.7,-6.2,-9.5,-5.3,-8.3,
 9.8,10.9,10.3,10.2,11.5,8.7,12.5,9.5,13,10.8,14,10.5,15,9.3,15.5,9.5,16.5,12.5,18,12.9,19.0,12.5,20,12.2,21.5,11.8,23.5,10.7,24.5,9.8,24,8.5,23.0,8.0,24.5,7.3,21,7.0,20,6.7,19,6.5,18,6.2,14,6.5,13,6.8,12,6.0,11.3,6.8,11.5,5.2,12.5,4.0,13.5,5.3,14.5,5.7,15.5,5.3,16,4.5,14.5,3.2,15.5,2.8,16.5,3.5,17.5,3.8,18,2.8,18.3,2.0,19.5,2.0,20.5,2.8,21.5,2.4,22,3.3,22.5,3.7,23.0,4.2,17,5.7,18.5,5.3,
 30.5,13,31,12.3,31.5,11.2,33,13.4,35,11.2,35.5,11.4,35.6,10.5,34.5,10,35.5,9,36.5,9,35,8,34.8,6.9,36.3,5,34,4.3,34,3.5,32,4.5,31.5,4.5,30.5,6,30.5,7,30.7,8.2,31,9,33,8.5]
dots_96000 = [3.3,22.8,4.0,23.3,4.5,24.5,4.8,25.3,5.1,24.9,5.7,25.6,6.8,26.7,7.5,27.0,8.5,27.3,9.8,28.0,10.5,28.3,11.5,28.3,12.4,28.2,13.5,28.0,14.2,27.7,12,26.0,8.3,24.0,8.7,24.7,9.5,23.5,11.0,24.8,6.5,22.2,7.5,22.0,5.0,21.0,5.3,20.0,5.5,19.2,6.3,19.0,6.7,19.7,7.0,20.5,8.0,20.0,8.0,18.0,8.5,17.5,9.0,17.0,10.0,16.9,10.5,18.0,11.5,17.0,12.8,18.3,14.0,21.7,13.5,20.4,
 18.7,23.0,19.5,22.5,20.5,24.6,20,24.0,21.2,22.5,22.2,21.6,23,22.5,23.0,24.7,24.0,23.5,24.5,24.4,23.0,23.7,21.8,23.3,
 29.5,24.0,29.8,20.8,30.0,21.2,30.5,20.0,30.8,18.8,30.2,18.2,31.5,26.0,32.0,27.0,32.2,28.2,33.5,27.5,34,27.9,34.0,25.8,35,25.5,35.5,24.5,35.8,23.7,35.3,23,36.2,22.5,36,21.4,36,20.0,35.5,20.6,34.5,20.5,33,23.0,33.5,21.0,32,22.5,
 5.5,12.7,5.8,12.0,5.7,11.0,6,10.4,6.9,10.1,7.3,9.7,8.0,13.7,8.3,12.5,8.7,12.2,9.1,13.2,9.7,12.8,9.4,11.2,8.5,11.0,7.3,11.0,9.7,9.9,
 5,3.8,4.8,3.5,5.2,3.0,5.7,2.8,6.4,2.0,6.9,2.7,6.5,4.0,7.3,3.8,5.7,4.3,
 -3.3,8.2,-3.9,5.0,-3.5,4.3,-3.0,5.7,-3.2,4.7,-2.7,6.0,-2.3,6.5,-1.8,6.3,-1.2,6.0,-0.6,5.7,-0.2,5.0,0.2,5.5,1.3,5.3,0.8,4.3,0.3,4.0,0,3.4,-0.3,2.6,-1.3,1.7,-1.0,2.5,-1.7,2.5,-2.5,3.4,-3.0,4.0,-2.5,4.5,-2.0,5.5,-1.3,4.6,-0.5,4.2,-1.6,4.1,-2.8,5.2,
 -12.9,-5.2,-12.5,-3.2,-12,-2.8,-11.7,-4.0,-11.3,-2.5,-11,-3.0,-10.8,-1.8,-10.0,-2.3,-9.5,-3.0,-9.0,-2.0,-8.3,-3.8,-11.5,-4.7,-11,-4.2,-10.5,-5.3,-10,-5.5,-9.5,-6.0,-9,-4.8,-8.5,-4.3,-7.8,-4.7,-12.2,-3.7,-11.2,-5.8,-10.2,-6.4,-9.0,-6.6,-7.5,-5.0,-8.5,-5.7,-6.8,-4.5,-10.8,-3.5,-9.8,-3.8,
 -9.5,-7.5,-9.2,-8.2,-9.3,-9,-8.7,-9.7,-8.5,-10.3,-7.7,-10.8,-7.2,-11.2,-6.5,-10.5,-6.0,-10,-5.5,-9.8,-4.5,-9.3,-4.8,-8.3,-5.0,-7.5,-5.2,-6.7,-5.8,-6.3,-6.5,-6.7,-7.3,-6.2,-7.7,-7.0,-8.3,-8,-7.5,-8,-7,-9,-6.2,-8.3,-6.3,-9.4,-5.5,-8.7,-7.6,-9.8,-8.5,-8.8,-6.5,-7.5,-5.5,-7.0,
 5.5,13,5.7,12,7.8,13.7,5.7,10.5,6.5,10.0,7.3,9.8,8.3,11.2,10,10.5,10.5,9.5,10.2,8.5,10.3,7,10.2,6.3,11,6.2,11.5,5.9,12.5,7.5,13,7.2,14,6.7,14.7,7.0,15.2,7.8,13,5.3,12.5,5.0,13.5,4.3,14.3,5,15.0,5.3,16.5,5.5,16,4.7,15.5,3.2,16,2.0,17.2,2.5,18,3,19,2.7,20,2.5,21,2.4,19.5,4.0,19,4.8,18,6,19,6.3,20,7,21,6.5,22,7.5,24,6,24.5,7.8,23,9.3,21,9.8,20.7,8.0,19.5,7.8,18.5,9.3,
 5,3.7,4.8,3.2,5.2,2.8,6,2.7,6.4,2.0,7.5,3,8.5,3.5,5.5,4.2,
 30,11,30.5,12,31,12.5,32,12.5,33,13,34,12.7,32,10,31,8,30.5,6.5,32,6.0,32,4.5,33,4.7,35,4.5,35.8,4.2,35,7,36,8.5,36.5,8.7,36.2,9.5,36.3,10.5,35.3,10.8,34.5,10.5,33.5,10]
dots_98000 = [4.2,25.3,5.3,24.0,5.5,25.0,6.5,26.5,7.3,27.5,8.3,27.2,9.3,26.5,12.0,28.5,13.5,28.2,14.5,28.2,7.8,24.5,9.0,24.7,9.5,24.0,4.0,21.8,5.5,21.0,5.8,19.5,4.8,20.0,7.0,19.5,8.0,19.0,5.8,18.5,7.0,18.0,8.3,18.0,8.8,17.2,10.5,16.5,12.0,16.2,
 19.0,23.2,21.0,25.0,22.5,25.0,23.5,25.0,23.8,24.0,23.0,24.5,23,22.0,21,21.0,20.3,20.9,19.5,20.8,
 29.5,25.5,31.2,27.0,32.2,28.3,33.5,27.5,35,26,34.5,24.8,35.7,24.5,36,23.7,35,24.7,29.7,21.2,30.5,22.0,31,21.0,31,20.0,34.8,19.0,35.0,18.5,31,18.7,31.8,18.5,
 6.2,13.7,6.5,12.2,7.2,12.5,7.7,13.3,8.0,13.8,5.8,13,6.0,11.5,6.5,11.0,7.0,10.9,
 4.5,3.3,4.9,3.0,5.2,3.5,5.5,3.7,6,2.2,6.3,2.7,7,2.5,6.5,4.8,7.3,4.0,8.1,4.7,6.5,3.3,
 -3.2,8.5,-4,4,-3.5,5,-3.2,5.5,-2.7,6.2,-2.2,6.5,-1.7,6.7,-1,6.3,-0.5,6,0,5.6,0.3,4.6,0.8,4.2,0.6,3.7,0,3,-0.5,2.6,-1.2,2.2,-2,2,-2.5,2.6,-3,3.5,-1.6,4.0,-2.2,4.5,-2.8,5.0,-1.0,3.5,-1.3,5.0,-0.5,4.2,-0.2,5,-2,5.7,-2.7,4.0,-1,5.5,-1.7,2.9,
 -12.8,-4.3,-12.5,-3.3,-12,-2.5,-11.5,-2.2,-11,-1.5,-10.3,-1,-9.5,-1.5,-9,-2.2,-8.3,-2.5,-8,-3.7,-9.7,-3,-10.7,-2.9,-11.5,-3.6,-12,-4.6,-11.5,-5.2,-10.8,-5.7,-10,-6.2,-9.5,-5.5,-9,-5,-8.5,-5.3,-7.5,-4.7,-6.5,-4.5,-10.5,-4.8,-10.9,-4.2,-10,-3.7,-9.5,-4.4,-8.8,-3.7,-7,-4.9,
 -9.5,-7,-9,-8.3,-9.3,-8.8,-8.8,-9.5,-8.2,-10.2,-7.7,-11.3,-7.2,-10.5,-6.3,-10.3,-5.8,-10.9,-6.2,-11.2,-5.5,-9.8,-5,-9.5,-4.7,-8.5,-4.6,-7.8,-5,-7,-5.0,-6.2,-5.8,-6.0,-6.5,-6.0,-7.5,-6.3,-8.3,-6.5,-8.8,-7.5,-8,-8,-7,-9,-6.2,-9.5,-6,-7.7,-5.5,-8.5,-8.0,-9,-7,-7.5,-7.7,-9.8,
 5.7,12.8,6.1,11.5,6.8,13.4,7.5,12.5,9,12,10.5,10.8,15.5,11.7,14,12,14.5,11,14,9.5,10,9,10.5,8.3,12.5,7.5,13.5,7.2,14,6.8,15,6.5,16,7.5,17.5,7,18.5,6.5,20,7,21,6,21.5,5.6,22.5,5.5,23.5,5,24.5,4.5,23,4.0,20,5,16,3,16.5,2,17.3,2.1,18.5,3.5,21,2.7,22,2.6,12,5.5,11.5,4.0,8.5,4,8,3.9,
 6.3,5.2,6.5,4.2,6.4,2,7,2.5,7.8,2.3,7.8,3.0,
 30.5,12,31,12.3,32,12,33,10.8,35.2,11.2,35.5,10.2,36,8.6,34.5,8.0,34,5.5,36,5.1,34,4.2,33,3.8,31,5.5,31.5,6.0,30.8,8.1,30.5,11.5,30.2,10.3]
dots_100000 = [8.5,27.4,12.2,28.3,11.5,25.9,5.3,24.7,8.1,20,5.3,19,8.9,17.6,32.1,26.6,19.2,23.6,23.8,23.4,21.9,23.6,19.1,21.3,36.2,23.8,33,20.7,35.2,18.5,31,17.9,6.5,13.4,33.9,12.5,31.5,10.5,19.4,10.5,15.7,7.8,15.2,5.5,12.3,5.8,7.8,4.5,18.4,6.6,20.6,6.5,23.6,6.5,15.6,2,21,2.9,36.4,8.9,36.4,8.6,34.5,4.1,32.2,6.5,
 -3.3,8.3,-3.2,5.7,-3.0,4.7,-2.9,3.5,-2.4,6.4,-2.0,4.5,-1.5,6.0,-1.0,6.5,-0.5,6.2,-0.2,5.5,0.4,5.2,1.2,5.2,0.8,4.2,0.2,3.5,0.3,2.6,-0.3,2.4,-0.8,2.8,-1.8,1.7,-1.6,2.5,-2.5,2.8,-3.5,3.0,-3.0,5.2,-2.3,4.9,-1.5,4.8,-0.5,4.6,-0.2,3.8,-1.0,3.2,-2,3.7,
 -12.8,-3.5,-12.5,-4.5,-12.2,-5.0,-12,-3.1,-11.5,-2.5,-11.2,-1.5,-10.5,-1.0,-9.8,-1.7,-9.5,-2.0,-8.5,-2.5,-8.2,-4.0,-7.7,-3.0,-7.5,-4.8,-8.4,-5.0,-9.0,-5.5,-10.2,-5.9,-11,-6.0,-10.8,-4.8,-11.5,-4.0,-10.8,-3.0,-10,-3.5,-9.3,-3.6,-9.5,-4.8,-10.4,-4.5,-11.8,-4.6,
 -9.8,-10,-9.2,-8.5,-9.5,-7.5,-9,-6.5,-8.2,-6.3,-8.0,-7.0,-7.5,-6.3,-6.7,-6,-5.5,-6.2,-5.0,-6.5,-4.5,-8.0,-4.5,-9.4,-5.2,-9.5,-5.3,-8.2,-6,-9.5,-6.5,-10.3,-6.0,-11,-6.2,-11.3,-7,-10.5,-7.8,-10,-8.8,-10,-8.5,-9.0,-7.7,-9.2,-6.5,-8.8,-7,-7.8,-6,-7.5,-5.5,-7.2,-5.0,-8.8,-8.5,-7.6]
dots_102000 = [-3.2,8.5,-4.4,6.2,-3.4,5.3,-3.2,4.2,-2.8,6.2,-2.3,6.7,-1.8,6.3,-1.0,6.4,-0.5,5.8,0.2,5.3,1.2,4.0,0.8,4.7,0.5,3.4,0.5,2.5,-0.3,2.2,-1,1.7,-1.7,2.5,-2.2,3.0,-2.5,3.7,-0.5,3,-1.5,5.3,-2.2,5.0,0,4.7,-3,4.7,-0.5,2.5,
 -12.5,-5.2,-12.5,-3.3,-12.0,-2.5,-11.5,-1.7,-11.0,-1.0,-10.3,-2.2,-9.5,-2.0,-9,-2.5,-8.5,-3.0,-8,-4.5,-7.0,-4.5,-8.2,-5.5,-9.5,-5.7,-10,-6.0,-10.2,-6.3,-11,-5.5,-11.7,-4.5,-11.3,-3.7,-11,-2.5,-10,-3,-10.3,-4,-9,-4.2,-9,-6,-11.8,-3.5,-10.5,-2.0,
 -9.5,-8,-9,-6.8,-9.2,-9.2,-8.7,-9.8,-8.2,-10.3,-7.8,-11.3,-7.0,-10.3,-6.3,-10.2,-6.0,-10.2,-5.8,-11,-5.0,-9.7,-4.5,-9.5,-4.0,-9.3,-4.8,-8.5,-4.8,-7.0,-5.5,-6.5,-6.2,-6.5,-7,-6.4,-7.5,-6.0,-8.8,-8,-8.2,-8.0,-7.2,-8.5,-7,-7.5,-6.2,-9.5,-7.0,-9.5,-5.8,-8,-8.8,-9.0]
dots_104000 = [-3.3,8.3,-4.5,6.1,-3.7,5.2,-3.5,4.3,-3.3,3.2,-3,2.3,-3,6.0,-2.5,6.5,-2,6.8,-1.5,6.0,-1.2,5.3,-0.5,6.2,0.3,5.0,1.4,5.1,0.8,3.9,0.5,3.3,0.3,2.5,-0.2,2.5,-0.8,2.0,-1.5,1.7,-2,2.2,-2.4,2.5,-2.8,4,-2.2,5,-1.8,4.5,-0.5,5,-0.5,3.5,-2.2,3.5,
 -12.2,-4.0,-12.5,-3.2,-12,-3.0,-11.5,-2.5,-11,-2.2,-10.5,-2.2,-10,-1.2,-9.5,-2.0,-9,-2.5,-8.7,-3.0,-8.5,-4.5,-12,-4.8,-11.5,-4.7,-10.7,-5.5,-10,-6.0,-9.5,-5.5,-9,-5.5,-11,-2.8,-9.5,-3.2,-8.5,-3.7,-10,-2.8,-11.8,-3.6,-12.4,-4.5,
 -9.2,-8.2,-9.5,-10,-9,-6.5,-8.7,-8.8,-8.5,-10.0,-8,-10.3,-7.8,-11.3,-7.3,-10,-6.5,-10.5,-5.7,-10.7,-5,-9.8,-4.5,-9.5,-4.3,-9.2,-4.5,-8,-4.7,-7,-5,-6.2,-5.3,-6.0,-6,-6.5,-7.8,-6,-6.5,-8.8,-7.2,-8.0,-6,-7.5,-8.0,-9,-5.2,-7.6]
dots_106000 = [-4.5,6.4,-4,3.3,-3.5,2.3,-3.3,3.0,-3.3,5.3,-2.9,6.2,-2.6,6.5,-2.7,6.9,-2.2,6.0,-1.5,6.7,-0.8,6.3,-0.5,5.9,0,5.5,0.3,5.5,0.6,4.7,1.3,5.3,0.8,3.9,0.3,3.0,0,2.5,-0.5,2.0,-1,1.7,-1.5,2.2,-1.8,3,-2.2,2.7,-2.5,4.7,-0.5,3.5,0,4.7,-1.5,4.6,-0.5,4.9,
 -13.2,-3.5,-12.7,-3.3,-12.3,-2.8,-12.2,-4.2,-12,-5.0,-11.5,-1.7,-11,-2.2,-10.5,-2.0,-10,-2.0,-9.5,-2.3,-8.8,-1.8,-8.5,-3,-8.0,-3.3,-8.2,-4.5,-8.5,-5.2,-9.5,-5.5,-10.0,-6.0,-10.5,-6.3,-11,-6.0,-11.5,-5.5,-11.5,-3.2,-11,-3.0,-10,-2.8,-9,-2.5,-12.3,-4.6,
 -9.7,-8.0,-9.5,-7.3,-9,-9.5,-9.2,-10,-8.5,-9.8,-8.2,-10.2,-7.5,-10,-7,-10,-6.5,-10,-6,-10.5,-6,-11.2,-5.7,-10.5,-5,-10.2,-4.5,-9.5,-4.2,-9.3,-4.5,-8.5,-4.5,-7.5,-4.8,-6.5,-5,-6,-5.8,-5.5,-6.5,-6,-7.2,-5.5,-8.0,-6.5,-9,-8.8,-4.3,-8.0,-4.7,-6.9]

# denser cores of the three lower-left clusters, read from the solid cyan areas
core_92000 = [-2.6,4.4,-2.0,4.2,-1.6,4.7,-1.5,5.5,-1.0,4.4,-2.3,5.3,-10.8,-4.5,-10.3,-4.2,-10.0,-4.6,-10.5,-5.1,-7.4,-7.2,-7.0,-7.4,-6.8,-8.0,-6.5,-8.4,-7.0,-8.7,-6.4,-9.0]
core_94000 = [-2.3,4.1,-1.9,3.7,-1.4,4.3,-1.0,5.0,-1.8,5.3,-1.2,5.6,-0.6,5.4,-0.7,3.6,-1.3,3.4,-2.2,4.6,-2.0,5.6,-10.8,-3.2,-10.2,-3.4,-9.5,-3.5,-10.2,-4.2,-9.5,-4.5,-9.0,-4.2,-10.2,-4.7,-9.7,-5.2,-9.2,-5.4,-6.7,-7.2,-6.2,-7.5,-5.8,-7.2,-7.3,-8.0,-6.4,-8.2,-5.6,-8.3,-7.0,-8.6,-6.4,-8.7,-7.0,-9.5,-6.3,-9.3]
core_96000 = [-2.4,4.0,-1.9,4.6,-1.4,5.4,-0.9,5.1,-2.2,5.7,-1.5,3.6,-0.9,3.6,-0.4,4.8,-1.7,3.2,-2.0,3.4,-1.1,4.2,-11.2,-3.5,-10.7,-4.2,-10.3,-3.2,-10.0,-4.3,-10.3,-4.8,-9.7,-4.9,-9.4,-4.0,-9.2,-3.5,-11,-5.0,-8.8,-5.2,-7.7,-7.6,-7.0,-7.0,-6.7,-7.8,-6.0,-7.4,-7.4,-8.6,-6.6,-8.7,-7.0,-9.5,-5.8,-8.8,-6.2,-9.0,-5.5,-8.0,-7.8,-9.2,-6.8,-10.0]
core_98000 = [-2.5,4.3,-2.0,5.2,-1.4,5.7,-0.9,4.7,-1.5,4.5,-0.7,3.8,-1.4,3.2,-1.9,3.4,-2.4,3.2,-0.5,5.4,-2.3,5.5,-0.2,4.3,-1.2,2.8,-11.3,-3.0,-11.0,-3.6,-10.5,-3.5,-10.2,-2.6,-9.8,-2.2,-9.2,-3.4,-8.5,-3.2,-11.2,-4.6,-10.6,-5.2,-10.1,-4.3,-9.0,-4.0,-9.2,-5.8,-9.7,-5.0,-8.3,-7.0,-7.8,-7.5,-7.2,-7.0,-6.7,-7.4,-6.0,-6.8,-5.7,-7.4,-5.2,-8.0,-7.5,-8.8,-6.8,-8.3,-6.5,-9.0,-6.0,-8.8,-7.0,-10.0,-8.2,-9.5,-6.7,-9.8,-7.4,-10.2]
core_100000 = [-2.6,4.4,-2.5,5.6,-2.0,5.3,-1.5,5.3,-1.0,5.8,-0.6,5.3,-0.1,4.4,0.3,4.3,-0.7,3.9,-1.5,4.1,-1.3,3.0,-0.4,3.1,-2.3,3.5,-2.7,3.9,-1.9,2.9,-1.2,2.3,-11.8,-3.5,-11.4,-3.0,-11.2,-4.4,-10.8,-2.4,-10.4,-3.3,-10.2,-2.0,-9.8,-2.7,-9.2,-2.8,-10.0,-4.2,-9.0,-4.6,-8.8,-3.4,-10.5,-5.3,-9.8,-5.4,-11.3,-5.3,-8.2,-7.2,-7.5,-7.6,-7.2,-7.0,-6.5,-6.8,-6.0,-7.0,-5.6,-7.8,-5.0,-7.4,-8.2,-8.5,-7.2,-8.8,-6.5,-9.4,-6.0,-8.7,-5.6,-9.0,-7.4,-9.8,-8.3,-9.6]
core_102000 = [-2.6,5.6,-2.0,5.7,-1.5,5.8,-1.0,5.6,-0.4,5.0,-2.2,4.6,-1.7,4.8,-1.2,4.5,-0.6,4.2,-0.2,3.9,-1.8,3.6,-1.2,3.7,-0.7,2.9,-1.2,2.9,-1.5,2.1,-0.1,3.1,-2.5,4.4,-11.0,-3.4,-10.5,-2.8,-10,-2.2,-10.5,-3.7,-10.0,-4.6,-9.5,-3.3,-9.2,-2.8,-9.5,-4.3,-11.2,-4.4,-10.7,-5.0,-9.6,-5.0,-8.8,-5.0,-8.5,-3.7,-10.5,-5.7,-8.4,-7.0,-8.3,-7.7,-7.7,-7.8,-7.4,-7.3,-6.8,-7.0,-6.3,-6.9,-5.7,-7.2,-5.2,-7.7,-6.7,-8.0,-6.2,-8.2,-5.6,-8.2,-5.0,-8.6,-8.4,-8.6,-7.6,-9.0,-7.2,-9.7,-6.6,-9.6,-5.8,-9.3,-5.3,-9.2,-8.5,-9.4,-7.8,-10.0]
core_104000 = [-2.5,5.5,-2.0,5.8,-1.5,5.4,-1.0,5.8,-0.5,5.6,-0.2,4.7,-2.4,4.5,-1.8,5.0,-1.2,4.7,-0.7,4.3,-0.2,3.7,-2.3,3.0,-1.8,3.0,-1.3,3.6,-0.8,3.0,-1.2,2.6,-0.2,3.0,-1.6,2.4,-2.6,5.2,-11.8,-2.8,-11.2,-3.2,-10.6,-2.8,-10,-2.4,-9.5,-2.7,-10.5,-3.8,-10,-3.5,-9.5,-3.8,-9.0,-3.5,-11.2,-4.2,-10.8,-4.4,-10,-4.5,-9.6,-4.8,-11.0,-5.0,-10.3,-5.3,-9.2,-5.0,-8.5,-5.2,-8.5,-6.8,-8.2,-7.7,-7.6,-7.0,-7.2,-6.8,-6.6,-6.5,-6.0,-7.0,-5.4,-6.8,-5.0,-7.3,-4.8,-8.0,-8.4,-8.5,-7.6,-7.6,-7.2,-8.7,-6.5,-7.6,-5.8,-8.0,-5.0,-8.6,-7.8,-9.3,-7.2,-9.5,-6.5,-9.4,-5.8,-9.2,-5.2,-9.2,-8.8,-9.5,-6.8,-10.3,-6.2,-10.0]
core_106000 = [-2.6,5.6,-2.0,5.7,-1.5,6.0,-1.0,5.6,-0.4,5.4,-2.5,4.2,-2,4.9,-1.5,5.0,-1.1,4.8,0,4.0,-2.4,3.4,-1.9,3.8,-1.4,3.8,-0.8,3.0,-0.5,4.2,-1.2,2.7,-1.8,2.3,-3.0,4.5,-0.3,2.8,-12,-3.6,-11.6,-4.0,-11.5,-2.6,-11.2,-4.8,-10.8,-3.6,-10.5,-3.0,-10,-3.4,-9.5,-3.0,-9.2,-3.6,-10.8,-5.3,-10.3,-4.6,-9.8,-4.2,-9.2,-4.8,-8.8,-4.0,-9.0,-5.5,-10.2,-5.4,-8.5,-6.3,-8.5,-7.0,-8.0,-7.2,-7.5,-6.5,-7.0,-6.2,-6.5,-6.8,-6.0,-6.4,-5.5,-6.7,-5.2,-7.3,-9.0,-8.0,-8.5,-8.2,-7.8,-8.0,-7.2,-7.2,-6.8,-7.6,-6.2,-7.8,-5.5,-8.0,-4.9,-8.0,-8.8,-9.0,-8.0,-9.2,-7.4,-8.6,-6.8,-8.8,-6.2,-9.0,-5.4,-9.2,-4.9,-9.0,-7.2,-9.6,-6.7,-9.7,-5.8,-9.8,-5.2,-9.6]

links_list = [links_90000, links_92000, links_94000, links_96000, links_98000, links_100000, links_102000, links_104000, links_106000]
dots_list = [dots_90000, dots_92000 + core_92000, dots_94000 + core_94000, dots_96000 + core_96000, dots_98000 + core_98000,
             dots_100000 + core_100000, dots_102000 + core_102000, dots_104000 + core_104000, dots_106000 + core_106000]

x_ranges = [(1.5,38.5),(-14.7,39.7),(-15.2,40.2),(-15.6,40.2),(-15.7,40.4),(-16.3,40.6),(-16.0,40.5),(-16.9,40.8),(-17.0,40.7)]
y_ranges = [(-0.25,30.8),(-12.5,32.0),(-12.8,31.3),(-13.3,31.9),(-13.4,31.5),(-13.5,31.3),(-13.3,31.3),(-13.5,31.3),(-13.0,28.0)]
x_ticks = [[10,20,30]] + [[0,20,40]]*8
y_ticks = [[0,5,10,15,20,25,30]] + [[-10,0,10,20,30]]*7 + [[-10,0,10,20]]

REF_W, REF_H = 1036, 1027
K = 1.0077           # measured shrink between the figure and the photographed page
W, H = round(REF_W*K), round(REF_H*K)
col_px = [(52,322),(403,674),(754,1025)]
row_px = [(32,299),(379,647),(727,994)]

fig = go.Figure()
for i in range(9):
    ax = "" if i == 0 else str(i+1)
    d = dots_list[i]
    fig.add_trace(go.Scatter(x=d[::2], y=d[1::2], mode="markers", xaxis="x"+ax, yaxis="y"+ax,
                             marker=dict(color="#00BFBF", size=3.6), hoverinfo="skip", showlegend=False))
    xs, ys = [], []
    for path in links_list[i]:
        xs += path[::2] + [None]
        ys += path[1::2] + [None]
    fig.add_trace(go.Scatter(x=xs, y=ys, mode="lines+markers", xaxis="x"+ax, yaxis="y"+ax,
                             line=dict(color="black", width=1.3), marker=dict(color="black", size=5.4),
                             hoverinfo="skip", showlegend=False))
    cx = col_px[i % 3]; ry = row_px[i // 3]
    common = dict(showgrid=False, zeroline=False, showline=True, mirror=True, linecolor="#333333", linewidth=1.3,
                  ticks="outside", ticklen=6, tickwidth=1.1, tickcolor="#333333", ticklabelstandoff=2,
                  tickfont=dict(family="DejaVu Sans", size=15.2, color="#222222"))
    fig.update_layout(**{
        "xaxis"+ax: dict(domain=[cx[0]/REF_W, cx[1]/REF_W], range=list(x_ranges[i]), tickvals=x_ticks[i], anchor="y"+ax, **common),
        "yaxis"+ax: dict(domain=[1-ry[1]/REF_H, 1-ry[0]/REF_H], range=list(y_ranges[i]), tickvals=y_ticks[i], anchor="x"+ax, **common),
    })
    fig.add_annotation(text=titles[i], xref="paper", yref="paper", x=(cx[0]+cx[1])/2/REF_W, y=1-(ry[0]-4)/REF_H,
                       xanchor="center", yanchor="bottom", showarrow=False, borderpad=0,
                       font=dict(family="DejaVu Sans", size=26, color="#111111"))

fig.update_layout(width=W, height=H, margin=dict(l=0, r=0, t=0, b=0), paper_bgcolor="white", plot_bgcolor="white")
fig.write_html("out.html", config={"displayModeBar": False},
               post_script="document.body.style.margin='0';document.body.style.overflow='hidden';")
